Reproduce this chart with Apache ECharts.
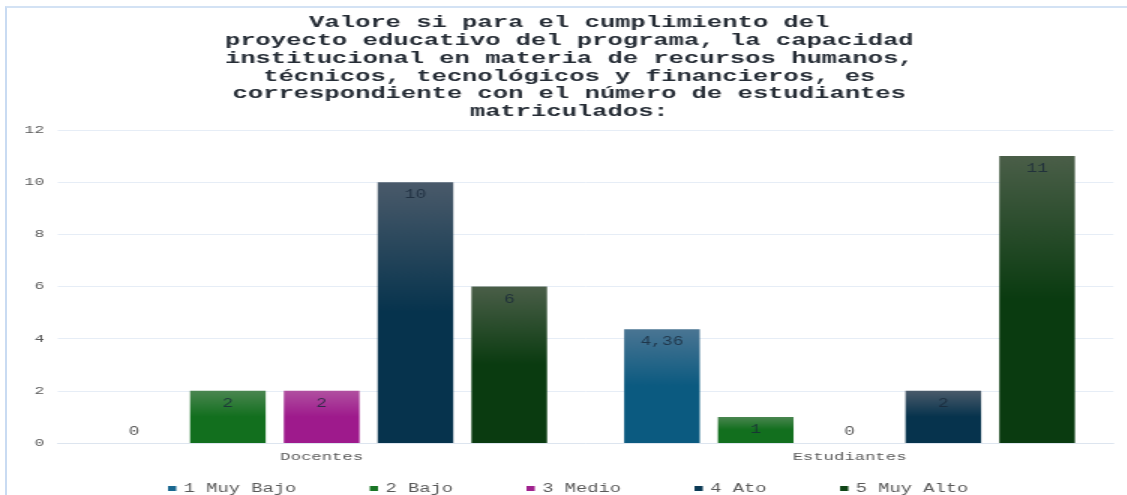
<!DOCTYPE html>
<html>
<head>
<meta charset="utf-8">
<script src="https://cdn.jsdelivr.net/npm/echarts@6/dist/echarts.min.js"></script>
<style>
  html, body { margin: 0; padding: 0; background: #fff; overflow: hidden; }
  #frame { position: absolute; left: 5px; top: 6px; width: 1122px; height: 489px;
           border-left: 2px solid #c9dbf2; border-top: 2px solid #d3e2f4; box-sizing: border-box; }
  #chart { position: absolute; left: 0; top: 0; width: 751.333px; height: 495px;
           transform: scaleX(1.5); transform-origin: 0 0; }
</style>
</head>
<body>
<div id="frame"></div>
<div id="chart"></div>
<script>
const titleText = 'Valore si para el cumplimiento del\nproyecto educativo del programa, la capacidad\ninstitucional en materia de recursos humanos,\ntécnicos, tecnológicos y financieros, es\ncorrespondiente con el número de estudiantes\nmatriculados:';
const categories = ['Docentes', 'Estudiantes'];
const seriesNames = ['1 Muy Bajo', '2 Bajo', '3 Medio', '4 Ato', '5 Muy Alto'];
const muyBajo = [0, 4.36];
const bajo = [2, 1];
const medio = [2, 0];
const ato = [10, 2];
const muyAlto = [6, 11];
const yTicks = [0, 2, 4, 6, 8, 10, 12];

const seriesValues = [muyBajo, bajo, medio, ato, muyAlto];
const topColors = ['#4a7593', '#4a8650', '#b050a0', '#4a5a6a', '#4a5e48'];
const bottomColors = ['#0b5a80', '#126f1e', '#9e1a8c', '#06334d', '#0a3b10'];
const legendColors = ['#1a6890', '#1a7526', '#a0228e', '#0b3a55', '#0f4516'];
const FONT = '"Liberation Mono", "DejaVu Sans Mono", monospace';

const chart = echarts.init(document.getElementById('chart'), null, { renderer: 'canvas' });

const series = seriesValues.map((vals, i) => ({
  name: seriesNames[i],
  type: 'bar',
  barGap: '24%',
  barCategoryGap: '14.6%',
  itemStyle: {
    color: new echarts.graphic.LinearGradient(0, 0, 0, 1, [
      { offset: 0, color: topColors[i] },
      { offset: 0.5, color: bottomColors[i] },
      { offset: 1, color: bottomColors[i] }
    ])
  },
  label: {
    show: true,
    position: 'insideTop',
    distance: 7,
    fontFamily: FONT,
    fontSize: 12,
    color: 'rgba(25,40,58,0.8)',
    formatter: p => String(p.value).replace('.', ',')
  },
  data: vals.map(v => v === 0 ? { value: v, label: { position: 'top', distance: 5, color: '#595959' } } : v)
}));

chart.setOption({
  animation: false,
  color: legendColors,
  title: {
    text: titleText,
    left: 379.5,
    textAlign: 'center',
    top: 14,
    padding: 0,
    textStyle: {
      fontFamily: FONT,
      fontWeight: 'bold',
      fontSize: 17,
      lineHeight: 17.8,
      color: '#262d36'
    }
  },
  legend: {
    data: seriesNames.map((n, i) => ({ name: n, itemStyle: { color: legendColors[i], borderWidth: 0 } })),
    left: 107,
    top: 477,
    itemWidth: 5.5,
    itemHeight: 5,
    itemGap: 49,
    icon: 'rect',
    textStyle: { fontFamily: FONT, fontSize: 12.5, color: '#595959' }
  },
  grid: { left: 38.5, right: 8.7, top: 130, bottom: 52, containLabel: false },
  xAxis: {
    type: 'category',
    data: categories,
    axisTick: { show: false },
    axisLine: { show: true, lineStyle: { color: '#dde5ef', width: 1 } },
    axisLabel: { fontFamily: FONT, fontSize: 11.5, color: '#595959', margin: 8 }
  },
  yAxis: {
    type: 'value',
    min: yTicks[0],
    max: yTicks[yTicks.length - 1],
    interval: yTicks[1] - yTicks[0],
    axisLine: { show: false },
    axisTick: { show: false },
    splitLine: { lineStyle: { color: '#e6edf6', width: 1 } },
    axisLabel: { fontFamily: FONT, fontSize: 11, color: '#595959', margin: 9 }
  },
  series: series
});
</script>
</body>
</html>
